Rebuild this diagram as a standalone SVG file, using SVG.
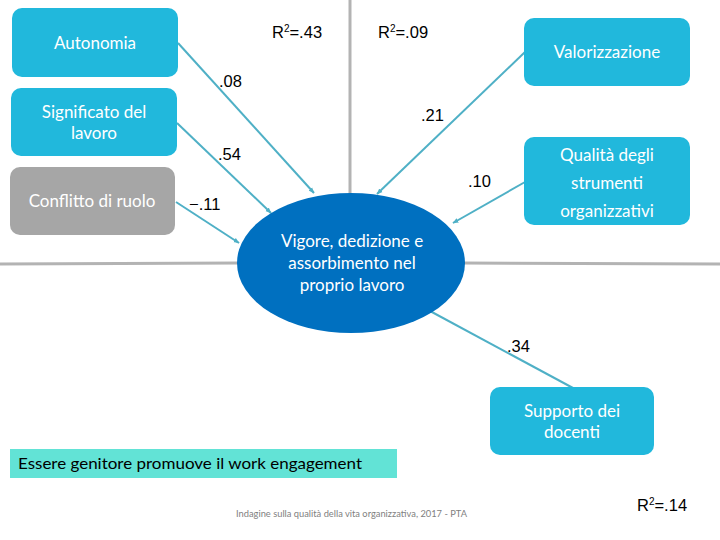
<svg xmlns="http://www.w3.org/2000/svg" width="720" height="540" viewBox="0 0 720 540">
<defs>
<style>
.box{fill:#21b8dc;}
.grey{fill:#a6a6a6;}
.nt{font-family:Lato,"Open Sans","DejaVu Sans",sans-serif;font-size:17px;fill:#ffffff;text-anchor:middle;}
.lbl{font-family:"Liberation Sans",Arial,sans-serif;font-size:16.5px;fill:#000000;}
.con{stroke:#4fb0c6;stroke-width:2;fill:none;}
.sep{stroke:#b3b3b3;stroke-width:3;fill:none;}
</style>
<marker id="ah" viewBox="0 0 10 10" refX="9" refY="5" markerWidth="6" markerHeight="6" orient="auto" markerUnits="userSpaceOnUse">
<path d="M0,1 L10,5 L0,9 z" fill="#4fb0c6"/>
</marker>
</defs>
<rect width="720" height="540" fill="#ffffff"/>
<g id="separators">
<line class="sep" x1="350" y1="0" x2="350" y2="196"/>
<line class="sep" x1="0" y1="264" x2="240" y2="263"/>
<line class="sep" x1="462" y1="263" x2="720" y2="264"/>
</g>
<g id="connectors">
<line class="con" x1="178" y1="43" x2="314" y2="193" marker-end="url(#ah)"/>
<line class="con" x1="177" y1="123" x2="271" y2="213" marker-end="url(#ah)"/>
<line class="con" x1="176" y1="202" x2="239" y2="243" marker-end="url(#ah)"/>
<line class="con" x1="525" y1="52" x2="377" y2="194" marker-end="url(#ah)"/>
<line class="con" x1="525" y1="182" x2="453" y2="223" marker-end="url(#ah)"/>
<line class="con" x1="573" y1="388" x2="430" y2="311"/>
</g>
<g id="autonomia">
<rect class="box" x="12" y="8" width="166" height="69" rx="10"/>
<text class="nt" x="95" y="49">Autonomia</text>
</g>
<g id="significato">
<rect class="box" x="11" y="88" width="166" height="68" rx="10"/>
<text class="nt" x="94" y="118">Significato del</text>
<text class="nt" x="94" y="139">lavoro</text>
</g>
<g id="conflitto">
<rect class="grey" x="10" y="167" width="165" height="68" rx="10"/>
<text class="nt" x="92" y="207">Conflitto di ruolo</text>
</g>
<g id="valorizzazione">
<rect class="box" x="524" y="18" width="166" height="68" rx="10"/>
<text class="nt" x="607" y="58">Valorizzazione</text>
</g>
<g id="qualita">
<rect class="box" x="524" y="137" width="166" height="88" rx="10"/>
<text class="nt" x="607" y="161">Qualità degli</text>
<text class="nt" x="607" y="189">strumenti</text>
<text class="nt" x="607" y="217">organizzativi</text>
</g>
<g id="supporto">
<rect class="box" x="490" y="387" width="164" height="68" rx="10"/>
<text class="nt" x="572" y="417">Supporto dei</text>
<text class="nt" x="572" y="438">docenti</text>
</g>
<g id="vigore">
<ellipse cx="351" cy="263" rx="114" ry="70" fill="#0070c0"/>
<text class="nt" x="352" y="247">Vigore, dedizione e</text>
<text class="nt" x="352" y="269">assorbimento nel</text>
<text class="nt" x="352" y="291">proprio lavoro</text>
</g>
<g id="labels">
<text class="lbl" x="272" y="38">R<tspan font-size="10" dy="-6">2</tspan><tspan dy="6">=.43</tspan></text>
<text class="lbl" x="378" y="38">R<tspan font-size="10" dy="-6">2</tspan><tspan dy="6">=.09</tspan></text>
<text class="lbl" x="637" y="511">R<tspan font-size="10" dy="-6">2</tspan><tspan dy="6">=.14</tspan></text>
<text class="lbl" x="219" y="87">.08</text>
<text class="lbl" x="421" y="121">.21</text>
<text class="lbl" x="218" y="160">.54</text>
<text class="lbl" x="468" y="187">.10</text>
<text class="lbl" x="189" y="210">−.11</text>
<text class="lbl" x="507" y="352">.34</text>
</g>
<g id="banner">
<rect x="10" y="449" width="387" height="29" fill="#62e3d6"/>
<text x="18" y="469" font-family="Lato,'Open Sans',sans-serif" font-size="16" fill="#000000" textLength="344" lengthAdjust="spacingAndGlyphs">Essere genitore promuove il work engagement</text>
</g>
<g id="footer">
<text x="236" y="517" font-family="Lato,'Open Sans',sans-serif" font-size="9" fill="#7f7f7f" textLength="231" lengthAdjust="spacingAndGlyphs">Indagine sulla qualità della vita organizzativa, 2017 - PTA</text>
</g>
</svg>
